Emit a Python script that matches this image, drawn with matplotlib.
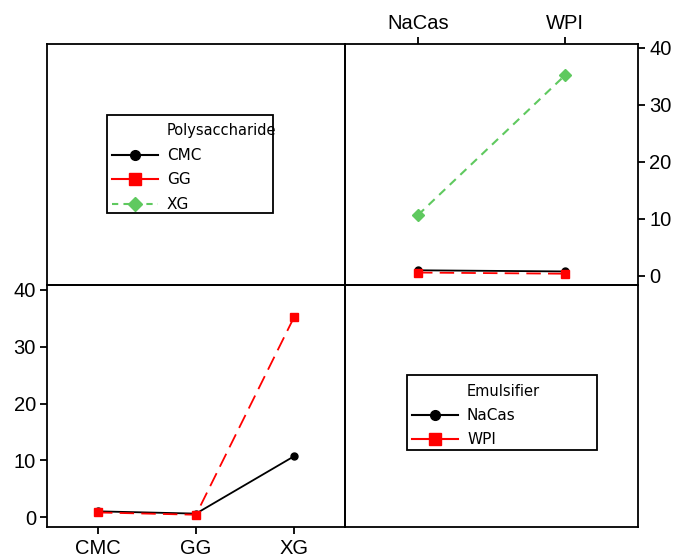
import matplotlib
matplotlib.use("Agg")
import matplotlib.pyplot as plt
from matplotlib.lines import Line2D
from matplotlib.patches import Rectangle

polysaccharides = ["CMC", "GG", "XG"]
emulsifiers = ["NaCas", "WPI"]
# mean response for each emulsifier across polysaccharides
nacas_vals = [1.0, 0.6, 10.7]
wpi_vals = [0.8, 0.4, 35.2]
y_ticks = [0, 10, 20, 30, 40]

plt.rcParams['font.family'] = ['Liberation Sans', 'DejaVu Sans']

W, H = 678, 558
fig = plt.figure(figsize=(W / 100, H / 100), dpi=100)

L, R, T, B = 47, 638, 44, 527
MX, MY = 345, 285

def fx(px):
    return px / W

def fy(py):
    return 1 - py / H

def ax_at(x0, y0, x1, y1):
    return fig.add_axes([fx(x0), fy(y1), (x1 - x0) / W, (y1 - y0) / H])

ax_tl = ax_at(L, T, MX, MY)
ax_tr = ax_at(MX, T, R, MY)
ax_bl = ax_at(L, MY, MX, B)
ax_br = ax_at(MX, MY, R, B)

for ax in (ax_tl, ax_tr, ax_bl, ax_br):
    for s in ax.spines.values():
        s.set_linewidth(1.3)
        s.set_color('black')
    ax.set_xticks([])
    ax.set_yticks([])
    ax.patch.set_alpha(0)

col_black = 'black'
col_red = '#ff0000'
col_green = '#5fc95f'
red_dash = (0, (8, 4))
green_dash = (0, (4, 3))

# bottom-left: response vs polysaccharide, lines for emulsifier
xp = list(range(len(polysaccharides)))
ax_bl.plot(xp, nacas_vals, color=col_black, lw=1.3, marker='o', ms=5, zorder=3)
ax_bl.plot(xp, wpi_vals, color=col_red, lw=1.3, ls=red_dash, marker='s', ms=6, zorder=4)
ax_bl.set_xlim(-0.52, 2.52)
ax_bl.set_ylim(-1.76, 40.88)
ax_bl.set_xticks(xp)
ax_bl.set_xticklabels(polysaccharides)
ax_bl.set_yticks(y_ticks)
ax_bl.tick_params(axis='both', direction='out', length=5, width=1.3, labelsize=14.5, pad=3)
ax_bl.tick_params(axis='x', pad=4)

# top-right: response vs emulsifier, lines for polysaccharide
xe = list(range(len(emulsifiers)))
styles = [
    dict(color=col_black, lw=1.3, ls='-', marker='o', ms=5),
    dict(color=col_red, lw=1.3, ls=red_dash, marker='s', ms=6),
    dict(color=col_green, lw=1.5, ls=green_dash, marker='D', ms=6.5),
]
for i, st in enumerate(styles):
    ax_tr.plot(xe, [nacas_vals[i], wpi_vals[i]], zorder=3 + i, **st)
ax_tr.set_xlim(-0.497, 1.497)
ax_tr.set_ylim(-1.58, 40.7)
ax_tr.set_xticks(xe)
ax_tr.set_xticklabels(emulsifiers)
ax_tr.set_yticks(y_ticks)
ax_tr.xaxis.tick_top()
ax_tr.yaxis.tick_right()
ax_tr.tick_params(axis='both', direction='out', length=5, width=1.3, labelsize=14.5, pad=3)

# legend handle styles (red handle drawn solid as in the reference)
leg_styles = [
    dict(color=col_black, lw=1.5, ls='-', marker='o', ms=7),
    dict(color=col_red, lw=1.5, ls='-', marker='s', ms=8),
    dict(color=col_green, lw=1.5, ls=(0, (3, 2.5)), marker='D', ms=7.5),
]

def make_legend(title, labels, sts, box):
    x0, y0, x1, y1 = box
    fig.patches.append(Rectangle((fx(x0), fy(y1)), (x1 - x0) / W, (y1 - y0) / H,
                                 transform=fig.transFigure, fill=True, facecolor='white',
                                 edgecolor='black', linewidth=1.3, zorder=5))
    handles = [Line2D([], [], color='none')]
    for st in sts:
        handles.append(Line2D([], [], **st))
    leg = fig.legend(handles, [title] + labels, loc='upper left',
                     bbox_to_anchor=(fx(x0 + 5), fy(y0 + 8.5)),
                     bbox_transform=fig.transFigure,
                     frameon=False, prop={'family': 'DejaVu Sans', 'size': 11},
                     handlelength=3.0, handletextpad=0.6,
                     borderpad=0.0, labelspacing=0.62, borderaxespad=0)
    leg.set_zorder(6)
    leg.get_texts()[0].set_fontsize(10.5)
    return leg

make_legend("Polysaccharide", polysaccharides, leg_styles, (107, 115, 273, 213))
make_legend("Emulsifier", emulsifiers, leg_styles[:2], (407, 375, 597, 450))

fig.savefig("out.png", dpi=100)
